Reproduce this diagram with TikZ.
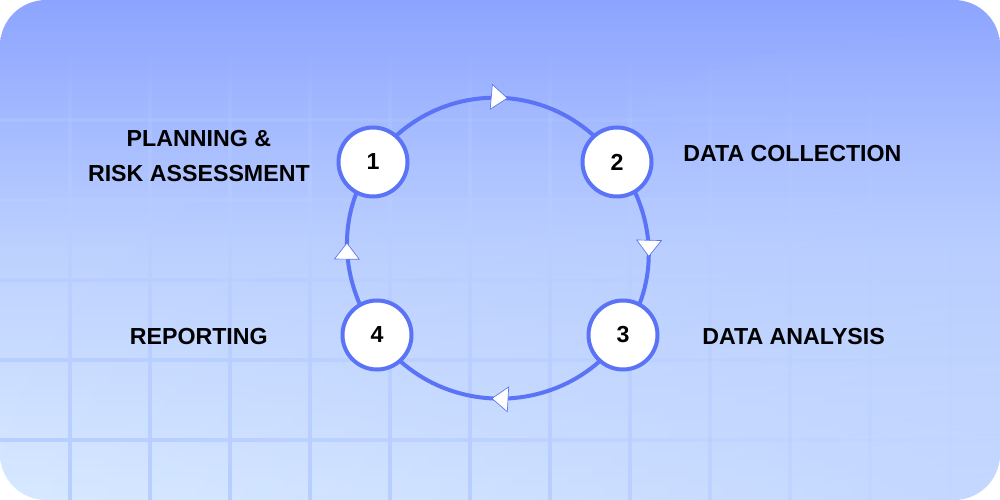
\documentclass[tikz,border=0pt]{standalone}
\usepackage{fontspec}
\setmainfont{Liberation Sans}
\usetikzlibrary{arrows.meta,decorations.markings,fadings}

\definecolor{ringblue}{HTML}{5A73F7}
\definecolor{bgtop}{HTML}{8CA4FF}
\definecolor{bgmid}{HTML}{BDD1FF}
\definecolor{bgbottom}{HTML}{D8EAFF}
\definecolor{bgtint}{HTML}{AFC5FF}
\definecolor{gridblue}{HTML}{B8CEFF}

\pgfdeclarelayer{back}
\pgfdeclarelayer{ring}
\pgfsetlayers{back,ring,main}

\tikzfading[name=corner glow, inner color=transparent!0, outer color=transparent!100]
\tikzfading[name=grid up, bottom color=transparent!0, top color=transparent!100, middle color=transparent!25]
\tikzfading[name=grid right, left color=transparent!0, right color=transparent!100, middle color=transparent!30]

\tikzset{
  stepnode/.style={circle, draw=ringblue, line width=3pt, fill=white,
    minimum size=51.75pt, inner sep=0pt, font=\fontsize{17.4}{20}\selectfont\bfseries},
  steplabel/.style={inner sep=0pt, align=center, font=\fontsize{17.4}{26.25}\selectfont\bfseries},
  cycleline/.style={draw=ringblue, line width=3pt, postaction={decorate},
    decoration={markings, mark=at position #1 with {\arrow{Triangle[length=12.75pt, width=19.5pt, fill=white, line width=0.5pt]}}}},
  gridline/.style={fill=gridblue},
}

\begin{document}
\begin{tikzpicture}[x=0.75pt, y=0.75pt]

  \useasboundingbox (0,0) rectangle (1000,500);

  % card and grid
  \begin{pgfonlayer}{back}
    \shade[rounded corners=34.5pt, top color=bgtop, bottom color=bgbottom, middle color=bgmid] (0,0) rectangle (1000,500);
    \begin{scope}
      \clip[rounded corners=34.5pt] (0,0) rectangle (1000,500);
      \fill[bgtint, opacity=0.5, path fading=corner glow] (0,-500) rectangle (2000,500);
      \foreach \x in {70,150,...,950} {
        \pgfmathsetmacro\op{min(1,(1000-\x)/450)}
        \fill[gridline, opacity=\op, path fading=grid up] (\x-2,0) rectangle (\x+2,450);
      }
      \foreach \y in {60,140,...,380} {
        \pgfmathsetmacro\op{min(1,max(0.25,(460-\y)/260))}
        \fill[gridline, opacity=\op, path fading=grid right] (0,\y-2) rectangle (1000,\y+2);
      }
    \end{scope}
  \end{pgfonlayer}

  \node[stepnode] (n1) at (373,338) {1};
  \node[stepnode] (n2) at (617,338) {2};
  \node[stepnode] (n3) at (623,165) {3};
  \node[stepnode] (n4) at (377,165) {4};

  \node[steplabel, anchor=east] (lab1) at (310,344) {PLANNING \&\\RISK ASSESSMENT};
  \node[steplabel, anchor=west] (lab2) at (683,346) {DATA COLLECTION};
  \node[steplabel, anchor=west] (lab3) at (702,163) {DATA ANALYSIS};
  \node[steplabel, anchor=east] (lab4) at (268,163) {REPORTING};

  % ring between the steps
  \begin{pgfonlayer}{ring}
    \draw[cycleline=0.545] (n1.center) to[out=55, in=125, looseness=1.1] (n2.center);
    \draw[cycleline=0.55] (n2.center) to[out=-53, in=55, looseness=0.96] (n3.center);
    \draw[cycleline=0.53] (n3.center) to[out=-125, in=-55, looseness=1.08] (n4.center);
    \draw[cycleline=0.535] (n4.center) to[out=125, in=-125, looseness=0.96] (n1.center);
  \end{pgfonlayer}

\end{tikzpicture}
\end{document}
